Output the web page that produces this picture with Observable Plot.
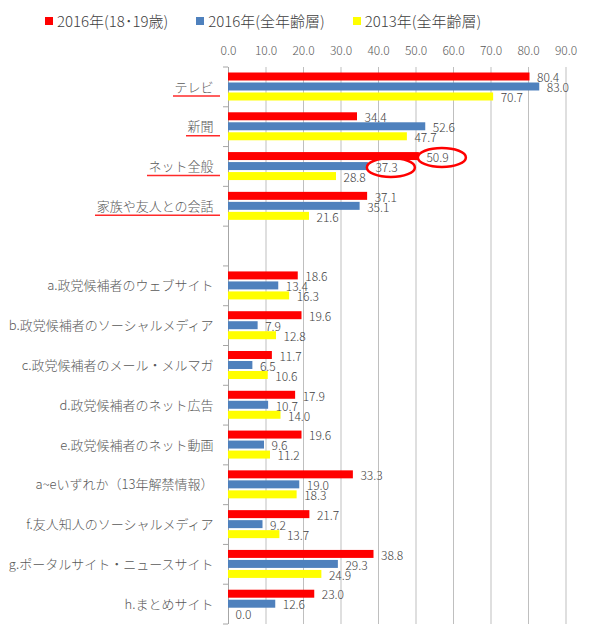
<!DOCTYPE html>
<html>
<head>
<meta charset="utf-8">
<script src="https://cdn.jsdelivr.net/npm/d3@7"></script>
<script src="https://cdn.jsdelivr.net/npm/@observablehq/plot@0.6"></script>
<style>
  html, body { margin: 0; padding: 0; background: #fff; }
  body { width: 596px; height: 640px; overflow: hidden; font-family: "Noto Sans CJK JP", sans-serif; }
  #legend { height: 34px; box-sizing: border-box; padding-top: 8px; padding-left: 45px; display: flex; align-items: center; font-size: 15px; font-weight: 300; line-height: 20px; color: #404040; }
  #legend .item { display: flex; align-items: center; margin-right: 28px; white-space: nowrap; }
  #legend .sw { width: 8px; height: 8px; margin-right: 4px; display: inline-block; }
  #chart svg { display: block; overflow: visible; }
</style>
</head>
<body>
<div id="legend"></div>
<div id="chart"></div>
<script>
// ---- data ----
const categories = [
  "テレビ", "新聞", "ネット全般", "家族や友人との会話", " ",
  "a.政党候補者のウェブサイト",
  "b.政党候補者のソーシャルメディア",
  "c.政党候補者のメール・メルマガ",
  "d.政党候補者のネット広告",
  "e.政党候補者のネット動画",
  "a~eいずれか（13年解禁情報）",
  "f.友人知人のソーシャルメディア",
  "g.ポータルサイト・ニュースサイト",
  "h.まとめサイト"
];
const series = ["2016年(18･19歳)", "2016年(全年齢層)", "2013年(全年齢層)"];
const seriesColors = ["#FF0000", "#4F81BD", "#FFFF00"];
const youth2016 = [80.4, 34.4, 50.9, 37.1, 18.6, 19.6, 11.7, 17.9, 19.6, 33.3, 21.7, 38.8, 23.0];
const all2016   = [83.0, 52.6, 37.3, 35.1, 13.4, 7.9, 6.5, 10.7, 9.6, 19.0, 9.2, 29.3, 12.6];
const all2013   = [70.7, 47.7, 28.8, 21.6, 16.3, 12.8, 10.6, 14.0, 11.2, 18.3, 13.7, 24.9, 0.0];
const xTicks = [0, 10, 20, 30, 40, 50, 60, 70, 80, 90];
const underlined = ["テレビ", "新聞", "ネット全般", "家族や友人との会話"];
const circled = [["ネット全般", 0], ["ネット全般", 1]]; // [category, series index]

// ---- build rows ----
const dataCategories = categories.filter(c => c.trim() !== "");
const seriesValues = [youth2016, all2016, all2013];
const rows = [];
seriesValues.forEach((vals, s) => {
  dataCategories.forEach((c, i) => rows.push({category: c, series: series[s], s, value: vals[i]}));
});

// ---- legend ----
const legend = d3.select("#legend");
series.forEach((name, i) => {
  const it = legend.append("div").attr("class", "item");
  it.append("span").attr("class", "sw").style("background", seriesColors[i]);
  it.append("span").text(name);
});

// ---- styling constants ----
const barInsets = [[5.5, 26.3], [15.5, 16.3], [25.5, 6.3]];
const labelDy = [-9, 1, 11];
const labelFont = "300 13px 'Noto Sans CJK JP'";

const measure = (() => {
  const ctx = document.createElement("canvas").getContext("2d");
  ctx.font = labelFont;
  return t => ctx.measureText(t).width;
})();

const marks = [
  Plot.gridX(xTicks.filter(d => d > 0), {stroke: "#bfbfbf", strokeOpacity: 1}),
  Plot.ruleX([0], {stroke: "#a6a6a6"}),
  // band boundary ticks on the y axis
  (index, scales, values, dim) => {
    const g = d3.create("svg:g").attr("stroke", "#a6a6a6");
    const x0 = scales.x(0);
    const bw = scales.y.bandwidth();
    const ys = categories.map(c => scales.y(c));
    ys.push(ys[ys.length - 1] + bw);
    ys.forEach(y => g.append("line").attr("x1", x0 - 5).attr("x2", x0).attr("y1", y).attr("y2", y));
    return g.node();
  },
  // red underlines under main category labels
  (index, scales, values, dim) => {
    const g = d3.create("svg:g").attr("stroke", "#ff2a2a").attr("stroke-width", 1.5);
    const x0 = scales.x(0);
    const bw = scales.y.bandwidth();
    underlined.forEach(c => {
      const y = scales.y(c) + bw / 2 + 9;
      const w = measure(c);
      g.append("line").attr("x1", x0 - 15 - w - 1).attr("x2", x0 - 8).attr("y1", y).attr("y2", y);
    });
    return g.node();
  }
];

series.forEach((name, s) => {
  const sub = rows.filter(d => d.s === s);
  marks.push(Plot.barX(sub, {
    x: "value", y: "category", fill: seriesColors[s],
    insetTop: barInsets[s][0], insetBottom: barInsets[s][1]
  }));
});
series.forEach((name, s) => {
  const sub = rows.filter(d => d.s === s);
  marks.push(Plot.text(sub, {
    x: "value", y: "category", text: d => d.value.toFixed(1),
    dx: 7, dy: labelDy[s], textAnchor: "start", fill: "#404040", fontSize: 12, fontWeight: 300
  }));
});
// red ellipses around highlighted labels
marks.push((index, scales, values, dim) => {
  const g = d3.create("svg:g").attr("fill", "none").attr("stroke", "#FF0000").attr("stroke-width", 2.5);
  const bw = scales.y.bandwidth();
  circled.forEach(([c, s]) => {
    const v = rows.find(d => d.category === c && d.s === s).value;
    g.append("ellipse")
      .attr("cx", scales.x(v) + 23)
      .attr("cy", scales.y(c) + bw / 2 + labelDy[s])
      .attr("rx", 24).attr("ry", 9.5);
  });
  return g.node();
});
marks.push(Plot.axisX({anchor: "top", ticks: xTicks, tickSize: 0, tickPadding: 13, label: null,
  tickFormat: d => d.toFixed(1), fill: "#595959", fontSize: 12, fontWeight: 300}));
marks.push(Plot.axisY({anchor: "left", tickSize: 0, tickPadding: 15, label: null,
  tickFormat: d => d.trim(), fill: "#595959", fontSize: 13, fontWeight: 300}));

const chart = Plot.plot({
  width: 596,
  height: 606,
  marginTop: 33,
  marginBottom: 16,
  marginLeft: 228,
  marginRight: 30.5,
  style: {fontFamily: "'Noto Sans CJK JP', sans-serif", fontSize: "12px", color: "#595959", background: "white"},
  x: {domain: [0, 90], axis: null, label: null},
  y: {domain: categories, paddingInner: 0, paddingOuter: 0, round: false, axis: null, label: null},
  marks
});
document.getElementById("chart").appendChild(chart);
</script>
</body>
</html>
